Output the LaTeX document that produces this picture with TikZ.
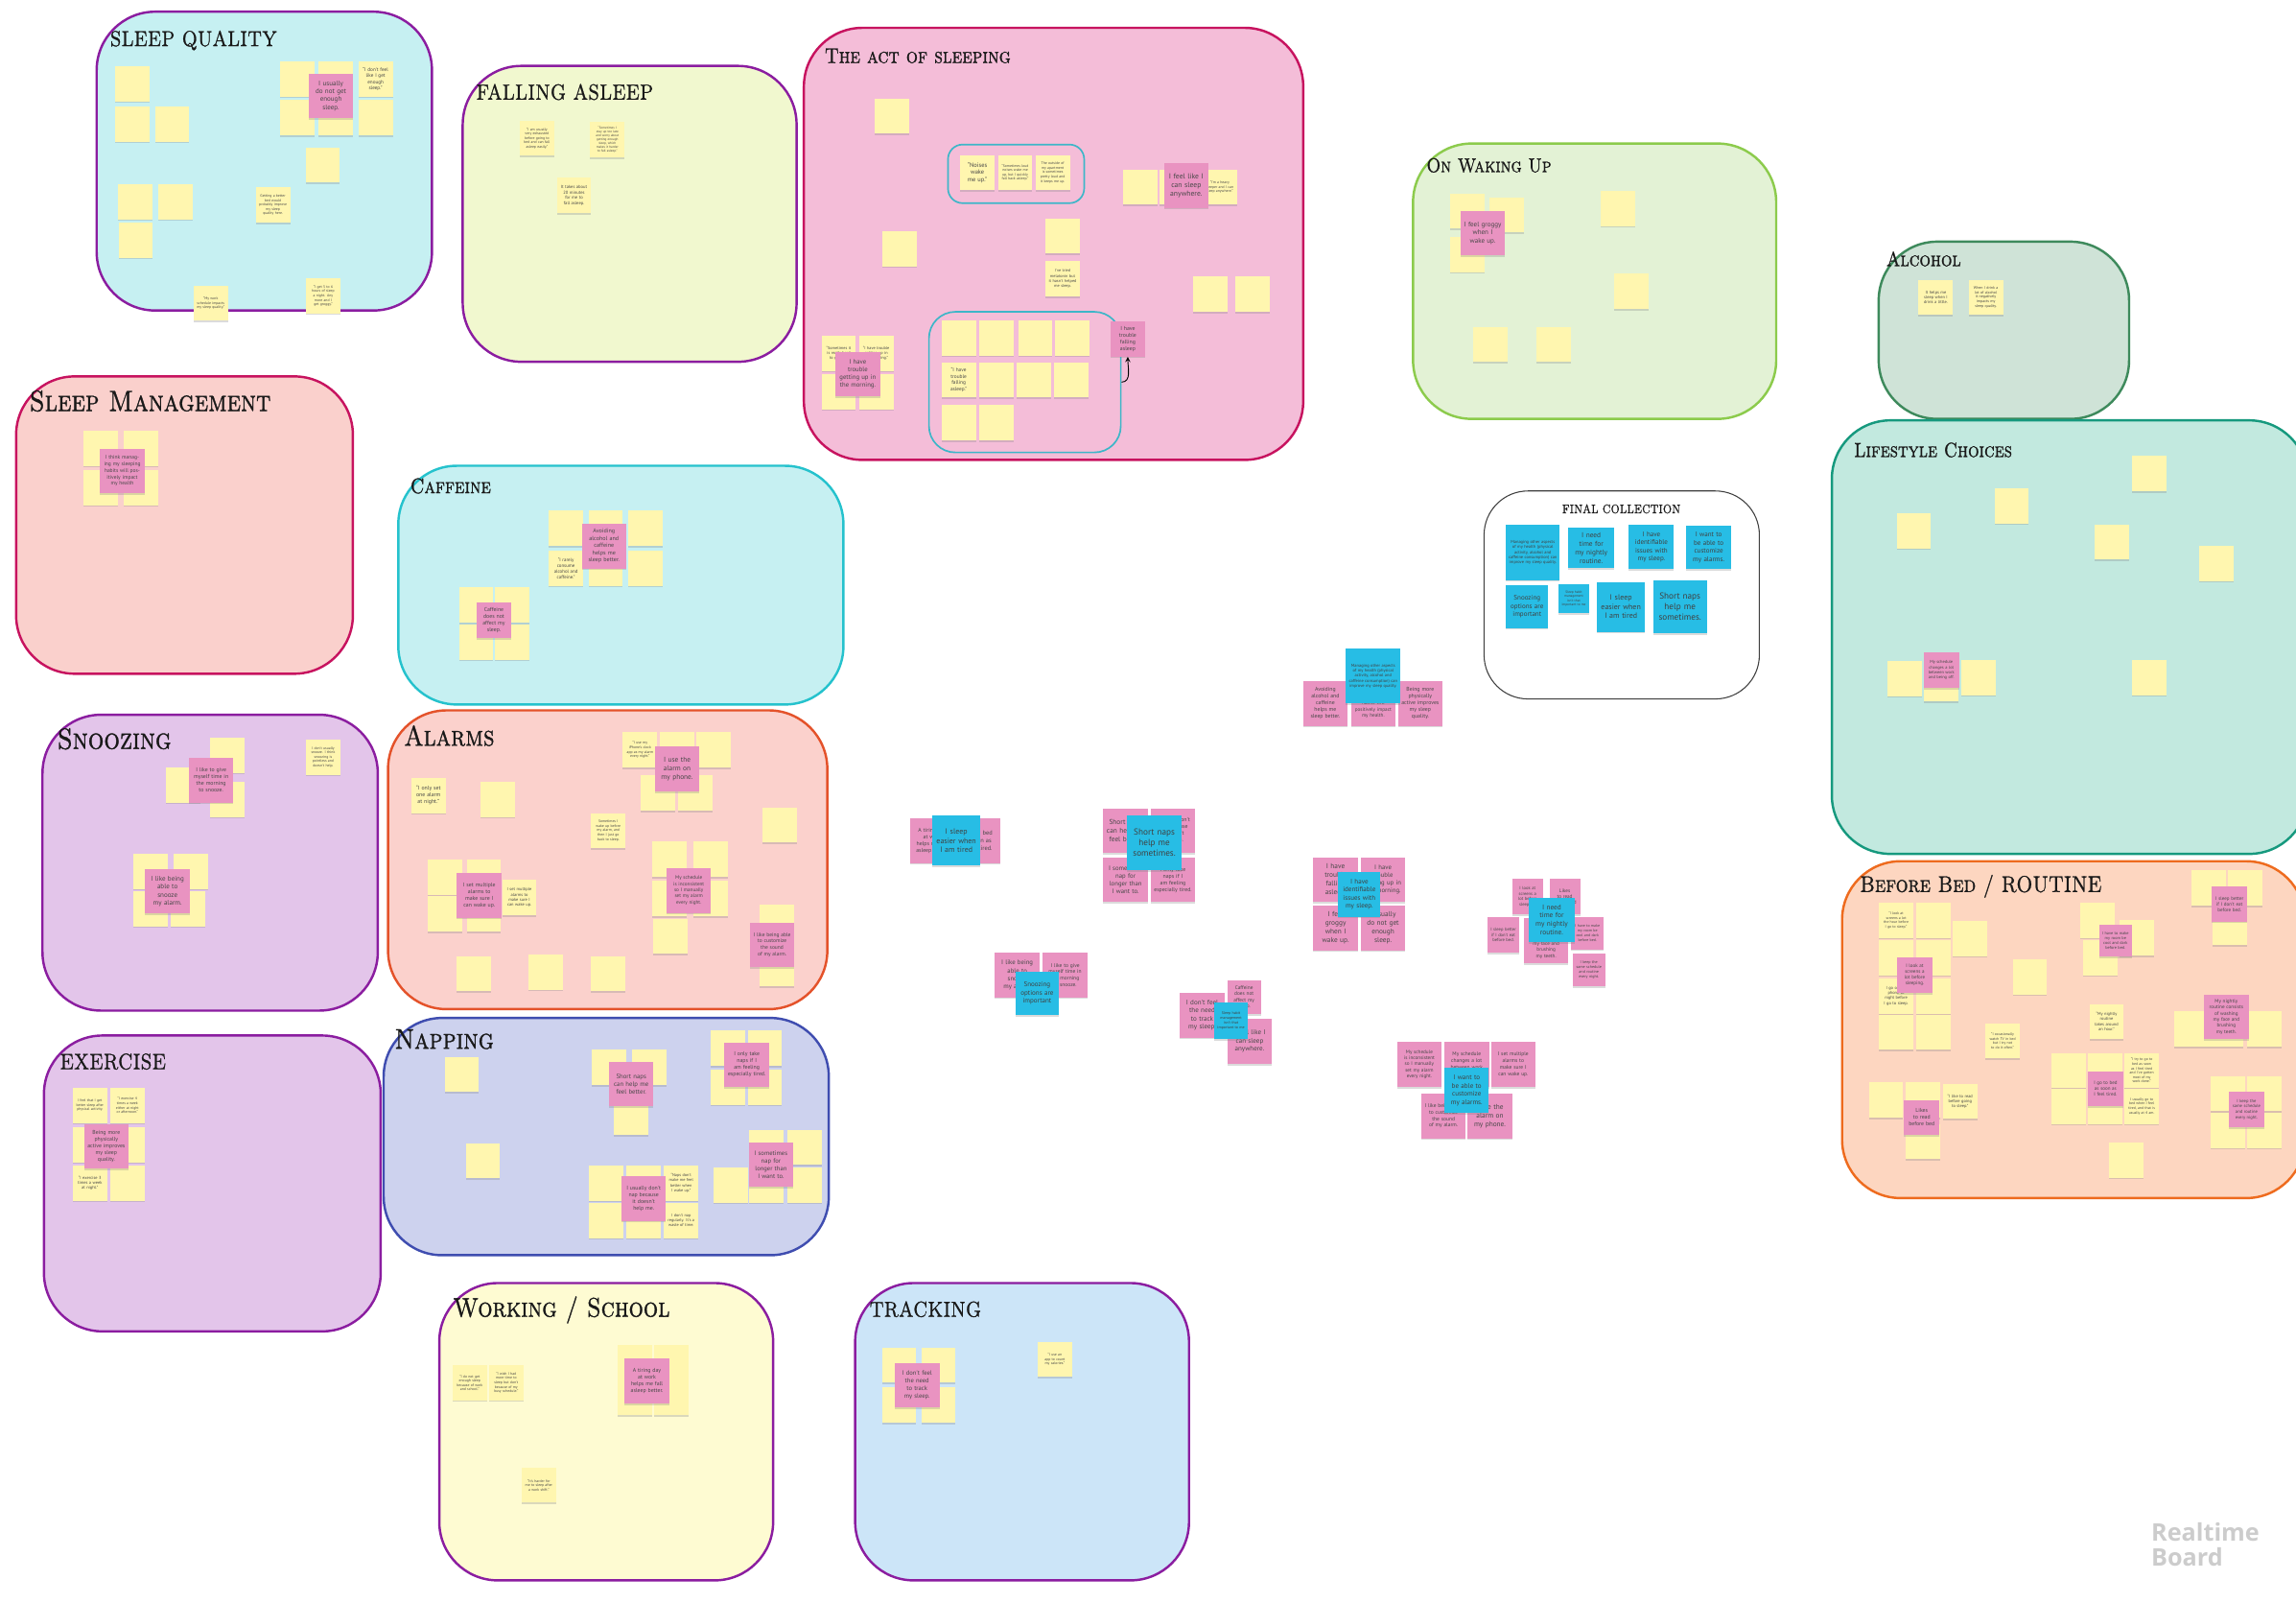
\documentclass[tikz,border=0pt]{standalone}
\usepackage{fontspec}
\newfontfamily\notefont{PT Sans}
\newfontfamily\markfont{Open Sans}
\newfontfamily\ttlfont{lmromancaps10-regular.otf}[FakeBold=1.2]
\newcommand{\sx}[1]{\scalebox{0.85}[1]{#1}}
\usetikzlibrary{shadows}

\definecolor{noteY}{HTML}{FFF6AF}
\definecolor{noteP}{HTML}{E993C1}
\definecolor{noteB}{HTML}{27BDE5}
\definecolor{fQual}{HTML}{C6F0F2}
\definecolor{fFall}{HTML}{F1F8CF}
\definecolor{fAct}{HTML}{F4BDD8}
\definecolor{fWake}{HTML}{E3F2D5}
\definecolor{fAlc}{HTML}{CFE3D7}
\definecolor{fLife}{HTML}{C2E9DF}
\definecolor{fMgmt}{HTML}{FAD0CC}
\definecolor{fSnz}{HTML}{E3C5EA}
\definecolor{fAlrm}{HTML}{FBD1CC}
\definecolor{fNap}{HTML}{CDD2EE}
\definecolor{fWork}{HTML}{FEFBD2}
\definecolor{fTrack}{HTML}{CCE5F8}
\definecolor{fBed}{HTML}{FDD6C0}
\definecolor{lPurple}{HTML}{8B1DA0}
\definecolor{lCrimson}{HTML}{C7135F}
\definecolor{lGreen}{HTML}{8CCB4C}
\definecolor{lDkGreen}{HTML}{3E8A5C}
\definecolor{lTeal}{HTML}{16997E}
\definecolor{lCyan}{HTML}{25C2CD}
\definecolor{lOrange}{HTML}{E4522A}
\definecolor{lBlue}{HTML}{3F4DB0}
\definecolor{lBedOr}{HTML}{EE6B1E}
\definecolor{grpline}{HTML}{3DB6C8}

\begin{document}
\begin{tikzpicture}[
            x=1pt, y=-1pt,
            panel/.style={
                rounded corners=40pt,
                line width=1.6pt
            },
            ttl/.style={
                anchor=base west,
                inner sep=0pt,
                text=black!90,
                font=\ttlfont\fontsize{#1}{#1}\selectfont
            },
            fs/.style 2 args={
                font=\notefont\fontsize{#1}{#2}\selectfont
            },
            sz/.style n args={3}{
                minimum width=#1pt,
                minimum height=#2pt,
                text width=#3pt
            },
            note/.style={
                inner sep=1pt,
                align=center,
                text=black!72,
                drop shadow={shadow xshift=0pt, shadow yshift=-1.1pt, opacity=0.28}
            },
            ynote/.style={note, fill=noteY, sz={23.5}{24}{19}, fs={2.5}{3}},
            pnote/.style={note, fill=noteP, sz={30.5}{30.5}{26}, fs={4.8}{5.8}},
            spnote/.style={pnote, sz={24}{24}{21}, fs={3.3}{4}},
            bnote/.style={note, fill=noteB, text=black!75, sz={30}{30.5}{27}, fs={4.6}{5.6}},
            grp/.style={
                draw=grpline,
                line width=1.1pt,
                rounded corners=12pt,
                inner sep=0pt
            },
            link/.style={
                ->,
                >=stealth,
                line width=0.6pt
            }
        ]
            \useasboundingbox (0,0) rectangle (1568,1094);
            \fill[white] (0,0) rectangle (1568,1094);
            \clip (0,0) rectangle (1568,1094);

            % Group panels
            \draw[panel, draw=lPurple, fill=fQual] (66,8) rectangle (295,212);
            \draw[panel, draw=lPurple, fill=fFall] (316,45) rectangle (544,247);
            \draw[panel, draw=lCrimson, fill=fAct] (549,19) rectangle (890,314);
            \draw[panel, draw=lGreen, fill=fWake] (965,98) rectangle (1213,286);
            \draw[panel, draw=lDkGreen, fill=fAlc] (1283,165) rectangle (1454,286);
            \draw[panel, draw=lTeal, fill=fLife] (1251,287) rectangle (1576,583);
            \draw[panel, draw=lCrimson, fill=fMgmt] (11,257) rectangle (241,460);
            \draw[panel, draw=lCyan, fill=fQual] (272,318) rectangle (576,481);
            \draw[panel, draw=lPurple, fill=fSnz] (29,488) rectangle (258,690);
            \draw[panel, draw=lOrange, fill=fAlrm] (265,485) rectangle (565,689);
            \draw[panel, draw=lPurple, fill=fSnz] (30,707) rectangle (260,909);
            \draw[panel, draw=lBlue, fill=fNap] (262,695) rectangle (566,857);
            \draw[panel, draw=lPurple, fill=fWork] (300,876) rectangle (528,1079);
            \draw[panel, draw=lPurple, fill=fTrack] (584,876) rectangle (812,1079);
            \draw[panel, draw=lBedOr, fill=fBed] (1258,588) rectangle (1574,818);
            \node[draw=black!75, line width=0.7pt, rounded corners=30pt, fill=white,
                  minimum width=188pt, minimum height=142pt] (fcBox) at (1107.5,406.2) {};

            % Titles
            \node[ttl=14.8] (sqT) at (75,31.5) {\sx{SLEEP QUALITY}};
            \node[ttl=14.9] (faT) at (325,68) {\sx{FALLING ASLEEP}};
            \node[ttl=14.6] (asT) at (563,43) {\sx{The act of sleeping}};
            \node[ttl=13.6] (wuT) at (974,117.5) {\sx{On Waking Up}};
            \node[ttl=13.9] (alT) at (1288,181.7) {\sx{Alcohol}};
            \node[ttl=13.9] (lsT) at (1266,312) {\sx{Lifestyle Choices}};
            \node[ttl=8.5, anchor=base] (fcT) at (1107.2,350.4) {\sx{FINAL COLLECTION}};
            \node[ttl=20] (smT) at (20,280.6) {\sx{Sleep Management}};
            \node[ttl=14.4] (cfT) at (280,336.7) {\sx{Caffeine}};
            \node[ttl=20.1] (snT) at (39,511.3) {\sx{Snoozing}};
            \node[ttl=19.4] (arT) at (275.7,509.1) {\sx{Alarms}};
            \node[ttl=15.2] (exT) at (40.7,730) {\sx{EXERCISE}};
            \node[ttl=19.4] (npT) at (269.4,716) {\sx{Napping}};
            \node[ttl=18.5] (wsT) at (309.2,899) {\sx{Working / School}};
            \node[ttl=14.8] (trT) at (593.6,899) {\sx{TRACKING}};
            \node[ttl=15.6] (bbT) at (1270,609) {\sx{Before Bed / ROUTINE}};

            % Sleep quality
            \foreach \x/\y [count=\i] in {90.2/57.3, 90.2/84.8, 117.6/84.8, 202.8/54, 229/54, 202.8/80.4, 229/80.4,
                256.5/80.4, 220.4/112.6, 92.3/137.8, 119.7/137.8, 92.7/164}
                \node[ynote] (sq\i) at (\x,\y) {};
            \node[ynote, fs={3.4}{4.1}] (sqFeel) at (256.5,54) {“I don't feel like I get enough sleep.”};
            \node[ynote] (sqBed) at (186.4,140) {Getting a better bed would probably improve my sleep quality here.};
            \node[ynote] (sqWork) at (143.9,207) {“My work schedule impacts my sleep quality.”};
            \node[ynote] (sqHours) at (220.7,202) {“I get 5 to 6 hours of sleep a night. Any more and I get groggy.”};
            \node[pnote, fs={4.6}{5.5}] (sqP) at (226,65.5) {I usually do not get enough sleep.};

            % Falling asleep
            \node[ynote] (faTired) at (366.7,94.4) {“I am usually very exhausted before going to bed and can fall asleep easily.”};
            \node[ynote, fs={2.2}{2.7}] (faWorry) at (414.8,95.3) {“Sometimes I stay up too late and worry about getting enough sleep, which makes it harder to fall asleep.”};
            \node[ynote, fs={3}{3.6}] (faTime) at (392,133.4) {It takes about 20 minutes for me to fall asleep.};

            % The act of sleeping
            \node[grp, minimum width=93pt, minimum height=40pt, rounded corners=10pt] (noiseGrp) at (693.9,118.7) {};
            \node[grp, minimum width=131pt, minimum height=96pt, rounded corners=18pt] (troubleGrp) at (699.9,260.9) {};
            \foreach \x/\y [count=\i] in {609.1/79.2, 614.3/169.8, 725.7/161.1, 778.6/127.7, 803.8/127.7, 826.6/200.8,
                855.1/200.8, 654.7/230.7, 680.3/230.7, 707/230.7, 732.5/230.7, 680.3/259.3, 706/259.3, 731.4/259.3,
                654.7/288.6, 680.3/288.6, 572.8/267.4, 598.4/267.4}
                \node[ynote] (as\i) at (\x,\y) {};
            \node[ynote, fs={4.2}{5}] (asNoise) at (667.5,117.9) {“Noises wake me up.”};
            \node[ynote] (asLoud) at (693.3,117.9) {“Sometimes loud noises wake me up, but I quickly fall back asleep.”};
            \node[ynote] (asStreet) at (718.9,117.9) {The outside of my apartment is sometimes pretty loud and it keeps me up.};
            \node[ynote, fs={2.8}{3.4}] (asMelat) at (725.7,190.4) {I've tried melatonin but it hasn't helped me sleep.};
            \node[ynote] (asHeavy) at (833,127.7) {“I'm a heavy sleeper and I can sleep anywhere.”};
            \node[ynote, fs={3.5}{4.2}] (asFall) at (654.7,259.3) {“I have trouble falling asleep.”};
            \node[ynote, fs={2.8}{3.4}] (asHard) at (572.8,241.2) {“Sometimes it is really hard to get up.”};
            \node[ynote, fs={2.8}{3.4}] (asUp) at (598.4,241.2) {“I have trouble getting up in the morning.”};
            \node[pnote, fs={5}{6}] (asAny) at (810.1,126.6) {I feel like I can sleep anywhere.};
            \node[spnote, fs={3.8}{4.6}] (asFallP) at (770.2,231.4) {I have trouble falling asleep};
            \node[pnote, fs={4.4}{5.3}] (asUpP) at (585.8,255.4) {I have trouble getting up in the morning.};
            \draw[link] (troubleGrp.east) to[out=0, in=-90] (asFallP.south);

            % On waking up
            \foreach \x/\y [count=\i] in {1001.9/144.1, 1028.7/146.6, 1001.9/173.7, 1104.7/142.4, 1114.3/198.8,
                1018/235.1, 1061/235.1}
                \node[ynote] (wu\i) at (\x,\y) {};
            \node[pnote, fs={4.6}{5.6}] (wuP) at (1012.6,159.2) {I feel groggy when I wake up.};

            % Alcohol
            \node[ynote, fs={2.9}{3.5}] (alLittle) at (1322,203) {It helps me sleep when I drink a little.};
            \node[ynote, fs={2.6}{3.1}] (alLot) at (1356.2,203) {When I drink a lot of alcohol it negatively impacts my sleep quality.};

            % Lifestyle choices
            \foreach \x/\y [count=\i] in {1467.5/323.3, 1373.8/345.4, 1307/362.4, 1442/370, 1513.5/384.7,
                1300.5/463.2, 1325.8/467, 1351.2/462.7, 1467.5/462.7}
                \node[ynote] (ls\i) at (\x,\y) {};
            \node[spnote, fs={2.9}{3.5}] (lsP) at (1325.8,457.6) {My schedule changes a lot between work and being off.};

            % Final collection
            \node[bnote, sz={36.5}{37.6}{33}, fs={2.9}{3.5}] (fcHealth) at (1046.8,377.2) {Managing other aspects of my health (physical activity, alcohol and caffeine consumption) can improve my sleep quality.};
            \node[bnote, sz={31.5}{27.6}{28}, fs={4.8}{5.8}] (fcRoutine) at (1086.7,374.2) {I need time for my nightly routine.};
            \node[bnote, sz={30.7}{30}{27}] (fcIssues) at (1127.8,373.4) {I have identifiable issues with my sleep.};
            \node[bnote, sz={30.7}{30}{27}] (fcAlarms) at (1166.9,373.7) {I want to be able to customize my alarms.};
            \node[bnote, sz={29}{29}{26}] (fcSnooze) at (1042.9,414.3) {Snoozing options are important};
            \node[bnote, sz={21}{20}{18}, fs={2.3}{2.8}] (fcHabit) at (1074.8,408.8) {Sleep habit management isn't that important to me};
            \node[bnote, sz={33}{34}{29}, fs={5.2}{6.3}] (fcTired) at (1107,414.3) {I sleep easier when I am tired};
            \node[bnote, sz={36.5}{36.3}{33}, fs={6}{7.2}] (fcNaps) at (1147.3,414.3) {Short naps help me sometimes.};

            % Sleep management
            \foreach \x/\y [count=\i] in {68.8/306.1, 96.3/306.1, 68.8/333, 96.3/333}
                \node[ynote] (sm\i) at (\x,\y) {};
            \node[pnote, fs={3.6}{4.4}] (smP) at (83.5,321.6) {I think managing my sleeping habits will positively impact my health};

            % Caffeine
            \foreach \x/\y [count=\i] in {386.5/360.7, 413.6/360.7, 441/360.7, 413.6/388, 441/388,
                325.2/413.1, 349.7/413.1, 325.2/438.4, 349.7/438.4}
                \node[ynote] (cf\i) at (\x,\y) {};
            \node[ynote, fs={3.2}{3.9}] (cfRare) at (386.5,388) {“I rarely consume alcohol and caffeine.”};
            \node[pnote, fs={4}{4.9}] (cfP) at (412.5,372.9) {Avoiding alcohol and caffeine helps me sleep better.};
            \node[spnote, fs={3.8}{4.6}] (cfNot) at (337.3,423.5) {Caffeine does not affect my sleep.};

            % Snoozing
            \foreach \x/\y [count=\i] in {155.4/515.6, 124.9/536, 155.4/545.8, 103.1/594.9, 130.2/594.9,
                103.1/620.4, 128.4/620.4}
                \node[ynote] (sn\i) at (\x,\y) {};
            \node[ynote] (snNo) at (220.7,517) {I don't usually snooze. I think snoozing is pointless and doesn't help.};
            \node[pnote, fs={3.8}{4.6}] (snTime) at (144.2,532.7) {I like to give myself time in the morning to snooze.};
            \node[pnote, fs={4.6}{5.6}] (snAble) at (114.4,608.6) {I like being able to snooze my alarm.};

            % Alarms
            \foreach \x/\y [count=\i] in {462.4/512, 487.3/512, 449.4/541.4, 474.6/541.4, 339.9/545.8, 532.5/563.2,
                304.1/598.8, 330.4/598.8, 304.1/623.9, 330.4/623.9, 457.4/586.6, 485.2/586.6, 457.4/613.4,
                485.2/613.4, 457.8/639.2, 530.8/629.8, 530.8/661.5, 323.8/664.7, 372.6/663.7, 415.4/664.7}
                \node[ynote] (ar\i) at (\x,\y) {};
            \node[ynote] (arClock) at (437.1,512) {“I use my iPhone's clock app as my alarm every night.”};
            \node[ynote, fs={3.8}{4.6}] (arOne) at (292.6,543.1) {“I only set one alarm at night.”};
            \node[ynote] (arBefore) at (415.4,567.2) {Sometimes I wake up before my alarm, and then I just go back to sleep.};
            \node[ynote, fs={2.9}{3.5}] (arMulti) at (354.7,612.8) {I set multiple alarms to make sure I can wake up.};
            \node[pnote, fs={4.8}{5.8}] (arPhone) at (462.4,525) {I use the alarm on my phone.};
            \node[pnote, fs={3.8}{4.6}] (arMultiP) at (327.3,611.3) {I set multiple alarms to make sure I can wake up.};
            \node[pnote, fs={3.4}{4.2}] (arManual) at (470.4,608) {My schedule is inconsistent so I manually set my alarm every night.};
            \node[pnote, fs={3.6}{4.4}] (arSound) at (527.3,645.1) {I like being able to customize the sound of my alarm.};

            % Exercise
            \foreach \x/\y [count=\i] in {61.4/781.5, 87/781.5, 87/807.7}
                \node[ynote] (ex\i) at (\x,\y) {};
            \node[ynote] (exBetter) at (61.4,754.7) {I feel that I get better sleep after physical activity.};
            \node[ynote] (exFour) at (87,754.7) {“I exercise 4 times a week either at night or afternoon.”};
            \node[ynote, fs={2.9}{3.5}] (exThree) at (61.4,807.7) {“I exercise 3 times a week at night.”};
            \node[pnote, fs={3.8}{4.6}] (exP) at (72.6,782.6) {Being more physically active improves my sleep quality.};

            % Napping
            \foreach \x/\y [count=\i] in {315.4/733.5, 416/728.7, 443.4/728.7, 431.1/763, 497.4/715.6, 522.3/715.6,
                497.4/742.2, 522.3/742.2, 329.8/792.4, 414/807.7, 439.6/807.7, 414/833.3, 439.6/833.3,
                523.4/783.3, 549.7/783.3, 498.8/809.2, 523.4/809.2, 549.7/809.2}
                \node[ynote] (np\i) at (\x,\y) {};
            \node[ynote, fs={2.8}{3.4}] (npWake) at (465.2,807.7) {“Naps don't make me feel better when I wake up.”};
            \node[ynote, fs={2.8}{3.4}] (npWaste) at (465.2,833.3) {I don't nap regularly. It's a waste of time.};
            \node[pnote, fs={4.4}{5.3}] (npShort) at (431.1,740.1) {Short naps can help me feel better.};
            \node[pnote, fs={3.8}{4.6}] (npOnly) at (510,727) {I only take naps if I am feeling especially tired.};
            \node[pnote, fs={3.8}{4.6}] (npDont) at (439.6,818.2) {I usually don't nap because it doesn't help me.};
            \node[pnote, fs={4.3}{5.2}] (npLong) at (526.5,795.1) {I sometimes nap for longer than I want to.};

            % Working / school
            \foreach \x/\y [count=\i] in {433.4/930, 458.3/930, 433.4/954, 458.3/954}
                \node[ynote] (ws\i) at (\x,\y) {};
            \node[ynote] (wsSchool) at (320.8,944.1) {“I do not get enough sleep because of work and school.”};
            \node[ynote] (wsBusy) at (345.7,944.1) {“I wish I had more time to sleep but don't because of my busy schedule.”};
            \node[ynote] (wsShift) at (368,1014) {“It's harder for me to sleep after a work shift.”};
            \node[pnote, fs={3.8}{4.6}] (wsP) at (441.8,943) {A tiring day at work helps me fall asleep better.};

            % Tracking
            \foreach \x/\y [count=\i] in {614/932, 640.9/932, 614/959.4, 640.9/959.4}
                \node[ynote] (tr\i) at (\x,\y) {};
            \node[ynote] (trApp) at (720.4,928.2) {“I use an app to count my calories.”};
            \node[pnote, fs={4.3}{5.2}] (trP) at (626.3,945.7) {I don't feel the need to track my sleep.};

            % Before bed / routine
            \foreach \x/\y [count=\i] in {1320.3/628.3, 1345.2/640.7, 1294.9/653.8, 1320.3/653.8, 1320.3/680,
                1294.9/704.7, 1320.3/704.7, 1386.2/666.9, 1432.5/628.3, 1459.3/640.3, 1434.2/653.8, 1508.4/606.2,
                1533.5/606.2, 1522.6/633.1, 1496.4/702.5, 1520.4/702.5, 1546.6/702.5, 1412.8/730.9, 1437.9/730.9,
                1412.8/755.3, 1437.9/755.3, 1288/751, 1313.3/751, 1313.3/779.3, 1521.5/746.6, 1546.6/746.6,
                1521.5/771.7, 1546.6/771.7, 1452.1/792}
                \node[ynote] (bb\i) at (\x,\y) {};
            \node[ynote] (bbHour) at (1294.9,628.3) {“I look at screens a lot the hour before I go to sleep.”};
            \node[ynote, fs={2.9}{3.5}] (bbPhone) at (1294.9,680) {I go on my phone at night before I go to sleep.};
            \node[ynote] (bbTV) at (1367.6,710.6) {“I occasionally watch TV in bed but I try not to do it often.”};
            \node[ynote, fs={2.9}{3.5}] (bbRoutine) at (1438.6,697.5) {“My nightly routine takes around an hour.”};
            \node[ynote, fs={2.9}{3.5}] (bbRead) at (1338.6,752) {“I like to read before going to sleep.”};
            \node[ynote] (bbWork) at (1462.6,730.9) {“I try to go to bed as soon as I feel tired and I've gotten most of my work done.”};
            \node[ynote] (bbFour) at (1462.6,755.3) {I usually go to bed when I feel tired, and that is usually at 4 am.};
            \node[spnote] (bbScreens) at (1307.6,665.8) {I look at screens a lot before sleeping.};
            \node[spnote, sz={22}{22}{20}, fs={2.8}{3.4}] (bbCool) at (1444.7,642.2) {I have to make my room be cool and dark before bed.};
            \node[spnote] (bbEat) at (1522.6,617.3) {I sleep better if I don't eat before bed.};
            \node[pnote, fs={3.4}{4.2}] (bbWash) at (1520.4,694.2) {My nightly routine consists of washing my face and brushing my teeth.};
            \node[spnote] (bbTired) at (1437.9,743.3) {I go to bed as soon as I feel tired.};
            \node[spnote, fs={3.8}{4.6}] (bbLikes) at (1312.4,763) {Likes to read before bed};
            \node[spnote, fs={3}{3.7}] (bbSame) at (1534.2,757.5) {I keep the same schedule and routine every night.};

            % Clusters on the open board
            \node[pnote, fs={3.8}{4.6}] (maAvoid) at (905.1,480.3) {Avoiding alcohol and caffeine helps me sleep better.};
            \node[pnote, fs={3.4}{4.2}] (maHealth) at (937.8,480.3) {I think managing my sleeping habits will positively impact my health.};
            \node[pnote, fs={3.8}{4.6}] (maActive) at (969.9,480.3) {Being more physically active improves my sleep quality.};
            \node[bnote, sz={37.5}{37.5}{34}, fs={2.9}{3.5}] (maB) at (937.8,461.5) {Managing other aspects of my health (physical activity, alcohol and caffeine consumption) can improve my sleep quality.};

            \node[pnote, fs={3.8}{4.6}] (mbWork) at (636.7,574) {A tiring day at work helps me fall asleep better.};
            \node[pnote, fs={4.2}{5.1}] (mbBed) at (667.6,574) {I go to bed as soon as I feel tired.};
            \node[bnote, sz={33}{34}{29}, fs={5.2}{6.3}] (mbB) at (653.1,574) {I sleep easier when I am tired};

            \node[pnote] (mcShort) at (768.7,567.2) {Short naps can help me feel better.};
            \node[pnote, fs={3.8}{4.6}] (mcDont) at (801,567.2) {I usually don't nap because it doesn't help me.};
            \node[pnote, fs={4.4}{5.3}] (mcLong) at (768.7,600.7) {I sometimes nap for longer than I want to.};
            \node[pnote, fs={3.8}{4.6}] (mcOnly) at (801,600.7) {I only take naps if I am feeling especially tired.};
            \node[bnote, sz={37.5}{37.5}{33}, fs={6}{7.2}] (mcB) at (788.3,575.4) {Short naps help me sometimes.};

            \node[pnote] (mdFall) at (912.1,600.7) {I have trouble falling asleep.};
            \node[pnote, fs={4.4}{5.3}] (mdUp) at (944.5,600.7) {I have trouble getting up in the morning.};
            \node[pnote] (mdGroggy) at (912.1,633.6) {I feel groggy when I wake up.};
            \node[pnote] (mdEnough) at (944.5,633.6) {I usually do not get enough sleep.};
            \node[bnote, sz={29}{30.5}{26}] (mdB) at (928.3,610.6) {I have identifiable issues with my sleep.};

            \node[spnote, sz={21}{24}{19}, fs={3}{3.6}] (meScreens) at (1043.2,612.2) {I look at screens a lot before sleeping.};
            \node[spnote, sz={21}{24}{19}, fs={3.4}{4.1}] (meRead) at (1068.6,612.2) {Likes to read before bed};
            \node[spnote, sz={22}{24}{20}, fs={3}{3.6}] (meEat) at (1026.7,638.3) {I sleep better if I don't eat before bed.};
            \node[pnote, fs={3.4}{4.2}] (meWash) at (1055.9,642.3) {My nightly routine consists of washing my face and brushing my teeth.};
            \node[spnote, sz={22}{22}{20}, fs={2.6}{3.2}] (meCool) at (1084.1,637.1) {I have to make my room be cool and dark before bed.};
            \node[spnote, sz={22}{22}{20}, fs={2.7}{3.3}] (meSame) at (1085.1,662.2) {I keep the same schedule and routine every night.};
            \node[bnote, sz={31.7}{30.5}{28}, fs={4.8}{5.8}] (meB) at (1059.7,628) {I need time for my nightly routine.};

            \node[pnote, fs={4.4}{5.3}] (mfAble) at (694.7,665.7) {I like being able to snooze my alarm.};
            \node[pnote, fs={3.6}{4.4}] (mfTime) at (727.4,665.7) {I like to give myself time in the morning to snooze.};
            \node[bnote, sz={29}{30}{26}] (mfB) at (708.3,678.2) {Snoozing options are important};

            \node[pnote, fs={4.6}{5.6}] (mgTrack) at (821,693.2) {I don't feel the need to track my sleep.};
            \node[spnote, sz={23}{23}{20}, fs={3.5}{4.2}] (mgCaff) at (849.6,681) {Caffeine does not affect my sleep.};
            \node[pnote, fs={4.6}{5.6}] (mgAny) at (853.4,711) {I feel like I can sleep anywhere.};
            \node[bnote, sz={23}{25}{20}, fs={2.6}{3.2}] (mgB) at (840.7,697) {Sleep habit management isn't that important to me};

            \node[pnote, fs={3.4}{4.2}] (mhManual) at (969.3,726.8) {My schedule is inconsistent so I manually set my alarm every night.};
            \node[pnote, fs={3.6}{4.4}] (mhChanges) at (1001.6,726.8) {My schedule changes a lot between work and being off.};
            \node[pnote, fs={3.6}{4.4}] (mhMulti) at (1033.4,726.8) {I set multiple alarms to make sure I can wake up.};
            \node[pnote, fs={3.6}{4.4}] (mhSound) at (985.8,762) {I like being able to customize the sound of my alarm.};
            \node[pnote, fs={4.8}{5.8}] (mhPhone) at (1017.5,762) {I use the alarm on my phone.};
            \node[bnote, sz={30}{30.5}{27}] (mhB) at (1001.6,744.4) {I want to be able to customize my alarms.};

            % Watermark
            \node[anchor=base west, inner sep=0pt, text=black!20, font=\markfont\bfseries\fontsize{16.5}{16.5}\selectfont] (rtbTop) at (1469,1052) {Realtime};
            \node[anchor=base west, inner sep=0pt, text=black!20, font=\markfont\bfseries\fontsize{16.5}{16.5}\selectfont] (rtbBot) at (1469,1069) {Board};
        \end{tikzpicture}
\end{document}
